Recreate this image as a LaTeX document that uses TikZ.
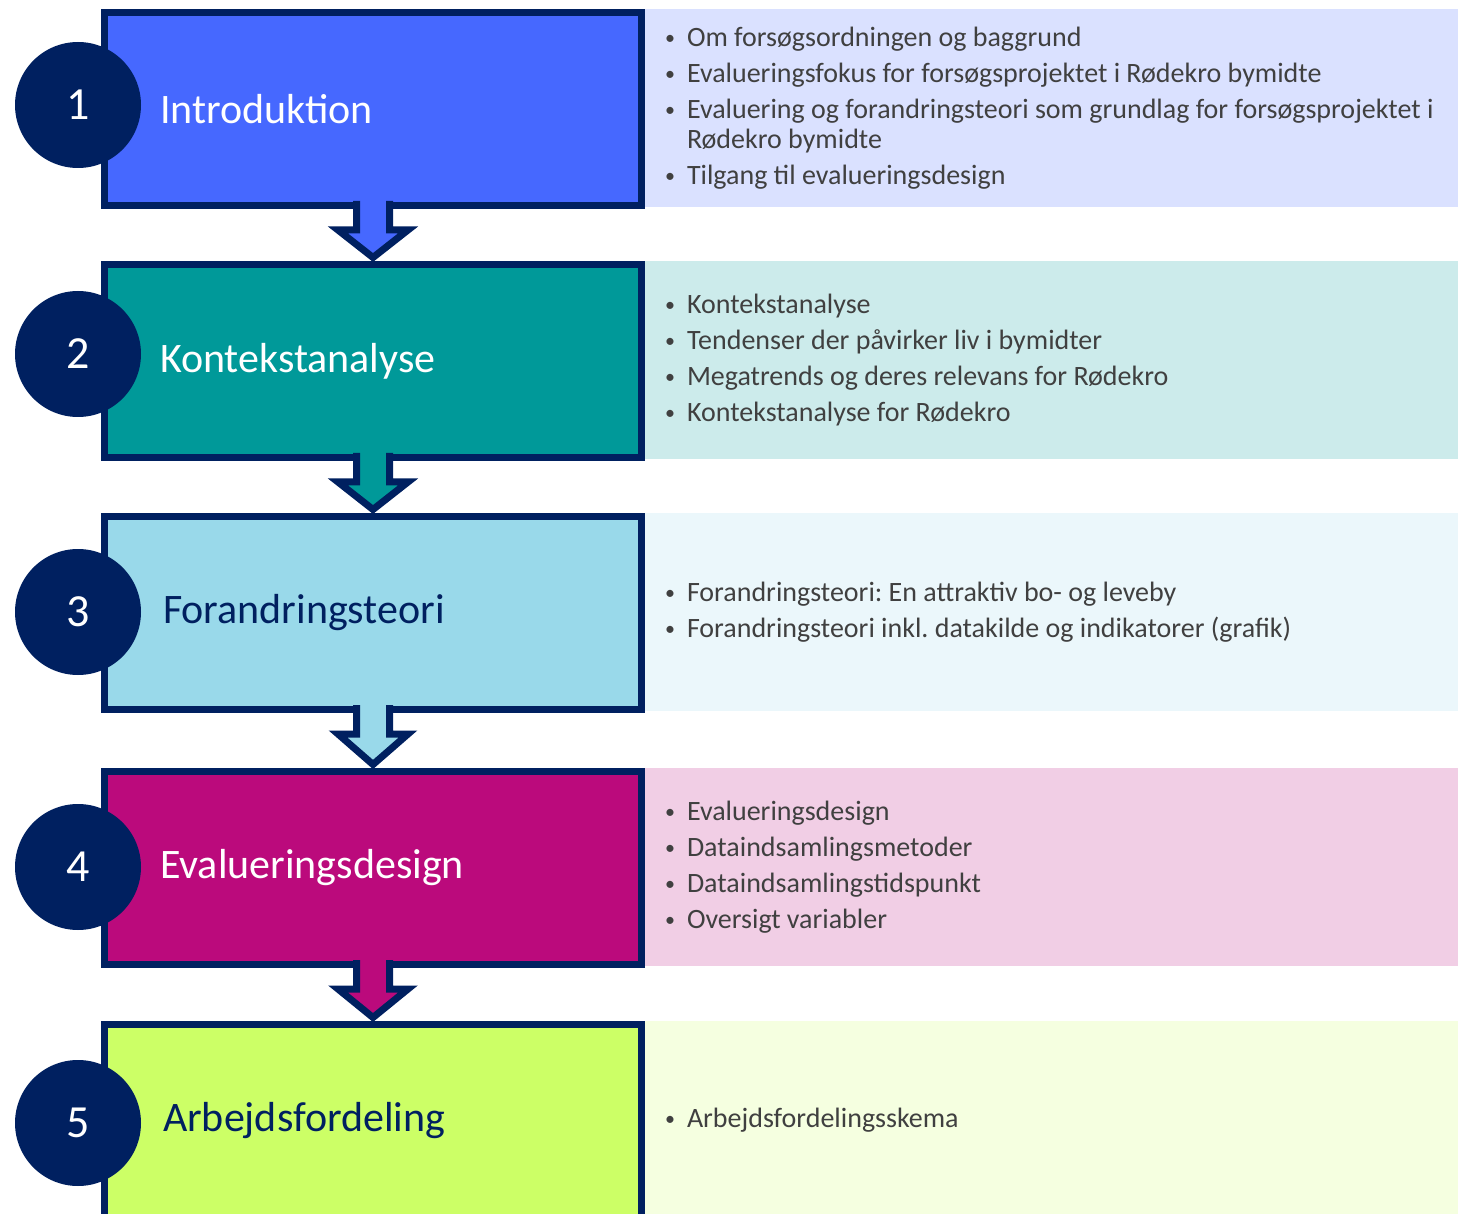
\documentclass[tikz,border=0pt]{standalone}
\usepackage{fontspec}
\setmainfont{Carlito}
\usetikzlibrary{positioning,calc}

\definecolor{navy}{HTML}{002060}
\definecolor{introblue}{HTML}{4668FF}
\definecolor{kontteal}{HTML}{009999}
\definecolor{forlight}{HTML}{99D9EA}
\definecolor{evalmag}{HTML}{BB0A7C}
\definecolor{arblime}{HTML}{CCFF66}
\definecolor{bodygray}{HTML}{404040}

\newcommand{\itm}[1]{\makebox[11.5pt][l]{\hspace{0.5pt}\raisebox{0.8pt}{\fontsize{10}{10}\selectfont •}}#1}

\begin{document}
\frenchspacing
\begin{tikzpicture}[x=0.5pt,y=-0.5pt,
  stepbox/.style={rectangle,draw=navy,line width=3.5pt,outer sep=0pt,minimum width=268.5pt,minimum height=96.5pt,inner xsep=27.75pt,text width=213pt,align=left,anchor=north west,font=\fontsize{21}{25}\selectfont},
  panel/.style={rectangle,outer sep=0pt,minimum width=406.5pt,minimum height=99pt,inner xsep=9.5pt,text width=400pt,align=left,anchor=north west,text=bodygray,font=\fontsize{14}{15}\selectfont},
  numdot/.style={circle,fill=navy,text=white,minimum size=63pt,inner sep=0pt,font=\fontsize{23}{25}\selectfont},
  blockarrow/.style={draw=navy,line width=3.5pt,line join=miter}]

\useasboundingbox (0,0) rectangle (1458,1214);
\clip (0,0) rectangle (1458,1214);

% panels, steps and numbers
\foreach \i/\top/\dot/\col/\tcol/\tx/\title/\items in {
    1/9/105/introblue/white/0/Introduktion/{\itm{Om forsøgsordningen og baggrund}\\[3pt]\itm{Evalueringsfokus for forsøgsprojektet i Rødekro bymidte}\\[3pt]\itm{Evaluering og forandringsteori som grundlag for forsøgsprojektet i}\\\hspace*{11.5pt}Rødekro bymidte\\[3pt]\itm{Tilgang til evalueringsdesign}},
    2/261/354/kontteal/white/0/Kontekstanalyse/{\itm{Kontekstanalyse}\\[3pt]\itm{Tendenser der påvirker liv i bymidter}\\[3pt]\itm{Megatrends og deres relevans for Rødekro}\\[3pt]\itm{Kontekstanalyse for Rødekro}},
    3/513/612/forlight/navy/1.5/Forandringsteori/{\itm{Forandringsteori: En attraktiv bo- og leveby}\\[3pt]\itm{Forandringsteori inkl. datakilde og indikatorer (grafik)}},
    4/768/867/evalmag/white/0/Evalueringsdesign/{\itm{Evalueringsdesign}\\[3pt]\itm{Dataindsamlingsmetoder}\\[3pt]\itm{Dataindsamlingstidspunkt}\\[3pt]\itm{Oversigt variabler}},
    5/1021/1123/arblime/navy/1.5/Arbejdsfordeling/{\itm{Arbejdsfordelingsskema}}} {
    \node[panel,fill=\col!20] (panel\i) at (645,\top) {\spaceskip=3.15pt\relax\items};
    \node[stepbox,fill=\col,text=\tcol] (box\i) at (104.5,\top+3.5) {\hspace*{\tx pt}\title};
    \node[numdot] (num\i) at (78,\dot) {\i};
}

% block arrows between the steps
\foreach \i/\col in {1/introblue,2/kontteal,3/forlight,4/evalmag} {
    \pgfmathtruncatemacro{\next}{\i+1}
    \filldraw[blockarrow,fill=\col] ($(box\i.south)+(-16.5,-4.5)$) -- ++(0,29) -- ++(-18.5,0)
        -- ($(box\next.north)+(0,-7)$) -- ($(box\i.south)+(35,24.5)$) -- ++(-18.5,0) -- ++(0,-29);
}
\end{tikzpicture}
\end{document}
